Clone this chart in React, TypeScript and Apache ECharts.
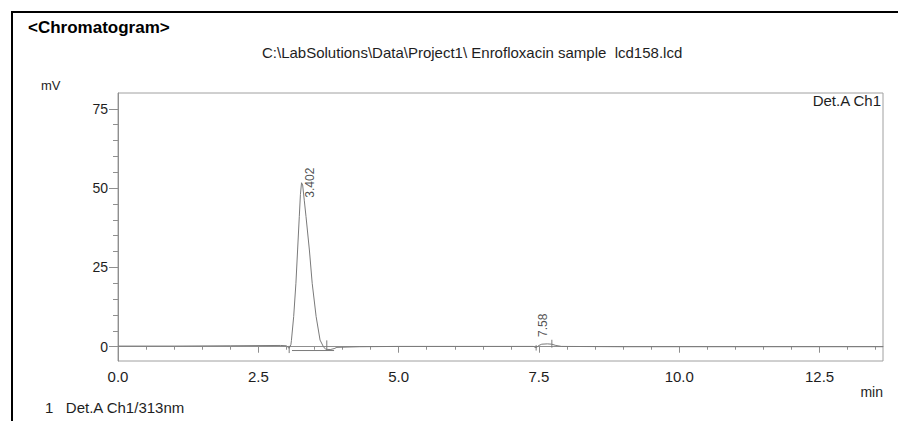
import React, { useEffect, useRef } from "react";
import * as echarts from "echarts";

// ---- data ----
const xMajorTicks = [0, 2.5, 5, 7.5, 10, 12.5];
const xMinorTicks = [0.5, 1, 1.5, 2, 3, 3.5, 4, 4.5, 5.5, 6, 6.5, 7, 8, 8.5, 9, 9.5, 10.5, 11, 11.5, 12, 13, 13.5];
const yMajorTicks = [0, 25, 50, 75];
const yMinorTicks = [5, 10, 15, 20, 30, 35, 40, 45, 55, 60, 65, 70];

// signal trace [min, mV]
const signal: [number, number][] = [
  [0, 0.2], [1.0, 0.2], [2.0, 0.3], [2.9, 0.4], [3.0, 0.3], [3.05, -0.5], [3.08, 0.6],
  [3.09, 2], [3.13, 9.5], [3.17, 20], [3.2, 30.5], [3.23, 41], [3.25, 48], [3.27, 51.7],
  [3.29, 51], [3.32, 46], [3.35, 41], [3.41, 30.5], [3.46, 20], [3.53, 9.5], [3.6, 2.1],
  [3.66, 0], [3.7, -0.8], [3.78, -0.9], [3.85, -0.6], [3.9, -0.2], [4.3, 0], [5, 0.1],
  [6, 0.1], [7, 0.1], [7.4, 0.1], [7.45, -0.3], [7.5, 0.4], [7.55, 0.8], [7.65, 0.9],
  [7.73, 0.8], [7.8, 0.4], [7.9, 0.1], [9, 0], [11, 0], [13.63, 0],
];
// integration baseline of the main peak
const integrationBaseline: [number, number][] = [[3.1, -1.2], [3.85, -1.2]];
// peak start / end markers
const peakMarkers: [number, number][][] = [
  [[3.05, 0.3], [3.05, -2]],
  [[3.72, 2], [3.72, -1.2]],
  [[7.45, 0.5], [7.45, -1.2]],
  [[7.73, 2.2], [7.73, -0.3]],
];
// peak labels [min, mV-at-label-bottom, text]
const peakLabels: [number, number, string][] = [
  [3.42, 47, "3.402"],
  [7.58, 3.1, "7.58"],
];

const X_MIN = 0;
const X_MAX = 13.63;
const Y_MIN = -4.5;
const Y_MAX = 80;

const FONT = "'Liberation Sans', Arial, Helvetica, sans-serif";
const TEXT = "#1e1e1e";
const AXIS = "#8f8f8f";
const TRACE = "#7a7a7a";

export default function App() {
  const ref = useRef<HTMLDivElement>(null);
  useEffect(() => {
    if (!ref.current) return;
    const chart = echarts.init(ref.current, undefined, { renderer: "svg" });
    const markerSeries = peakMarkers.map((m) => ({
      type: "line",
      data: m,
      showSymbol: false,
      silent: true,
      lineStyle: { color: TRACE, width: 1 },
      xAxisIndex: 0,
      yAxisIndex: 0,
    }));
    chart.setOption({
      animation: false,
      backgroundColor: "#ffffff",
      textStyle: { fontFamily: FONT },
      grid: {
        left: 118,
        right: 15,
        top: 93,
        bottom: 60,
        show: true,
        borderColor: "#a0a0a0",
        borderWidth: 1,
        containLabel: false,
      },
      xAxis: [
        {
          type: "value",
          min: X_MIN,
          max: X_MAX,
          position: "bottom",
          axisLine: { show: true, lineStyle: { color: AXIS, width: 1 } },
          axisTick: { show: true, customValues: xMajorTicks, length: 6, lineStyle: { color: AXIS } },
          axisLabel: {
            customValues: xMajorTicks,
            formatter: (v: number) => v.toFixed(1),
            color: TEXT,
            fontSize: 15,
            fontFamily: FONT,
            margin: 8,
          },
          splitLine: { show: false },
        },
        {
          type: "value",
          min: X_MIN,
          max: X_MAX,
          position: "bottom",
          axisLine: { show: false },
          axisTick: { show: true, customValues: xMinorTicks, length: 3, lineStyle: { color: AXIS } },
          axisLabel: { show: false },
          splitLine: { show: false },
        },
      ],
      yAxis: [
        {
          type: "value",
          min: Y_MIN,
          max: Y_MAX,
          position: "left",
          axisLine: { show: true, lineStyle: { color: AXIS, width: 1 } },
          axisTick: { show: true, customValues: yMajorTicks, length: 9, lineStyle: { color: AXIS } },
          axisLabel: {
            customValues: yMajorTicks,
            color: TEXT,
            fontSize: 14,
            fontFamily: FONT,
            margin: 10,
          },
          splitLine: { show: false },
        },
        {
          type: "value",
          min: Y_MIN,
          max: Y_MAX,
          position: "left",
          axisLine: { show: false },
          axisTick: { show: true, customValues: yMinorTicks, length: 5, lineStyle: { color: AXIS } },
          axisLabel: { show: false },
          splitLine: { show: false },
        },
      ],
      series: [
        {
          type: "line",
          data: signal,
          showSymbol: false,
          silent: true,
          lineStyle: { color: TRACE, width: 1 },
          xAxisIndex: 0,
          yAxisIndex: 0,
        },
        {
          type: "line",
          data: integrationBaseline,
          showSymbol: false,
          silent: true,
          lineStyle: { color: TRACE, width: 1 },
          xAxisIndex: 0,
          yAxisIndex: 0,
        },
        ...markerSeries,
        {
          type: "scatter",
          data: peakLabels.map((p) => ({ value: [p[0], p[1]], name: p[2] })),
          symbolSize: 1,
          itemStyle: { color: "rgba(0,0,0,0)" },
          silent: true,
          xAxisIndex: 0,
          yAxisIndex: 0,
          label: {
            show: true,
            formatter: (p: any) => p.name,
            position: "inside",
            rotate: 90,
            align: "left",
            verticalAlign: "middle",
            color: TEXT,
            fontSize: 12,
            fontFamily: FONT,
          },
        },
      ],
      graphic: [
        { type: "line", shape: { x1: 11, y1: 12, x2: 898, y2: 12 }, style: { stroke: "#000", lineWidth: 2 }, silent: true },
        { type: "line", shape: { x1: 12, y1: 11, x2: 12, y2: 421 }, style: { stroke: "#000", lineWidth: 2 }, silent: true },
        {
          type: "text", x: 28, y: 27,
          style: { text: "<Chromatogram>", font: `bold 17px ${FONT}`, fill: "#000", textVerticalAlign: "middle" },
        },
        {
          type: "text", x: 262, y: 52,
          style: { text: "C:\\LabSolutions\\Data\\Project1\\ Enrofloxacin sample  lcd158.lcd", font: `15px ${FONT}`, fill: TEXT, textVerticalAlign: "middle" },
        },
        {
          type: "text", x: 41, y: 85,
          style: { text: "mV", font: `13px ${FONT}`, fill: TEXT, textVerticalAlign: "middle" },
        },
        {
          type: "text", x: 881, y: 100,
          style: { text: "Det.A Ch1", font: `15px ${FONT}`, fill: TEXT, textAlign: "right", textVerticalAlign: "middle" },
        },
        {
          type: "text", x: 883, y: 392,
          style: { text: "min", font: `14px ${FONT}`, fill: TEXT, textAlign: "right", textVerticalAlign: "middle" },
        },
        {
          type: "text", x: 45, y: 407,
          style: { text: "1   Det.A Ch1/313nm", font: `15px ${FONT}`, fill: TEXT, textVerticalAlign: "middle" },
        },
      ],
    });
    return () => chart.dispose();
  }, []);
  return (
    <div
      ref={ref}
      style={{ position: "fixed", left: 0, top: 0, width: 898, height: 421, background: "#fff" }}
    />
  );
}
